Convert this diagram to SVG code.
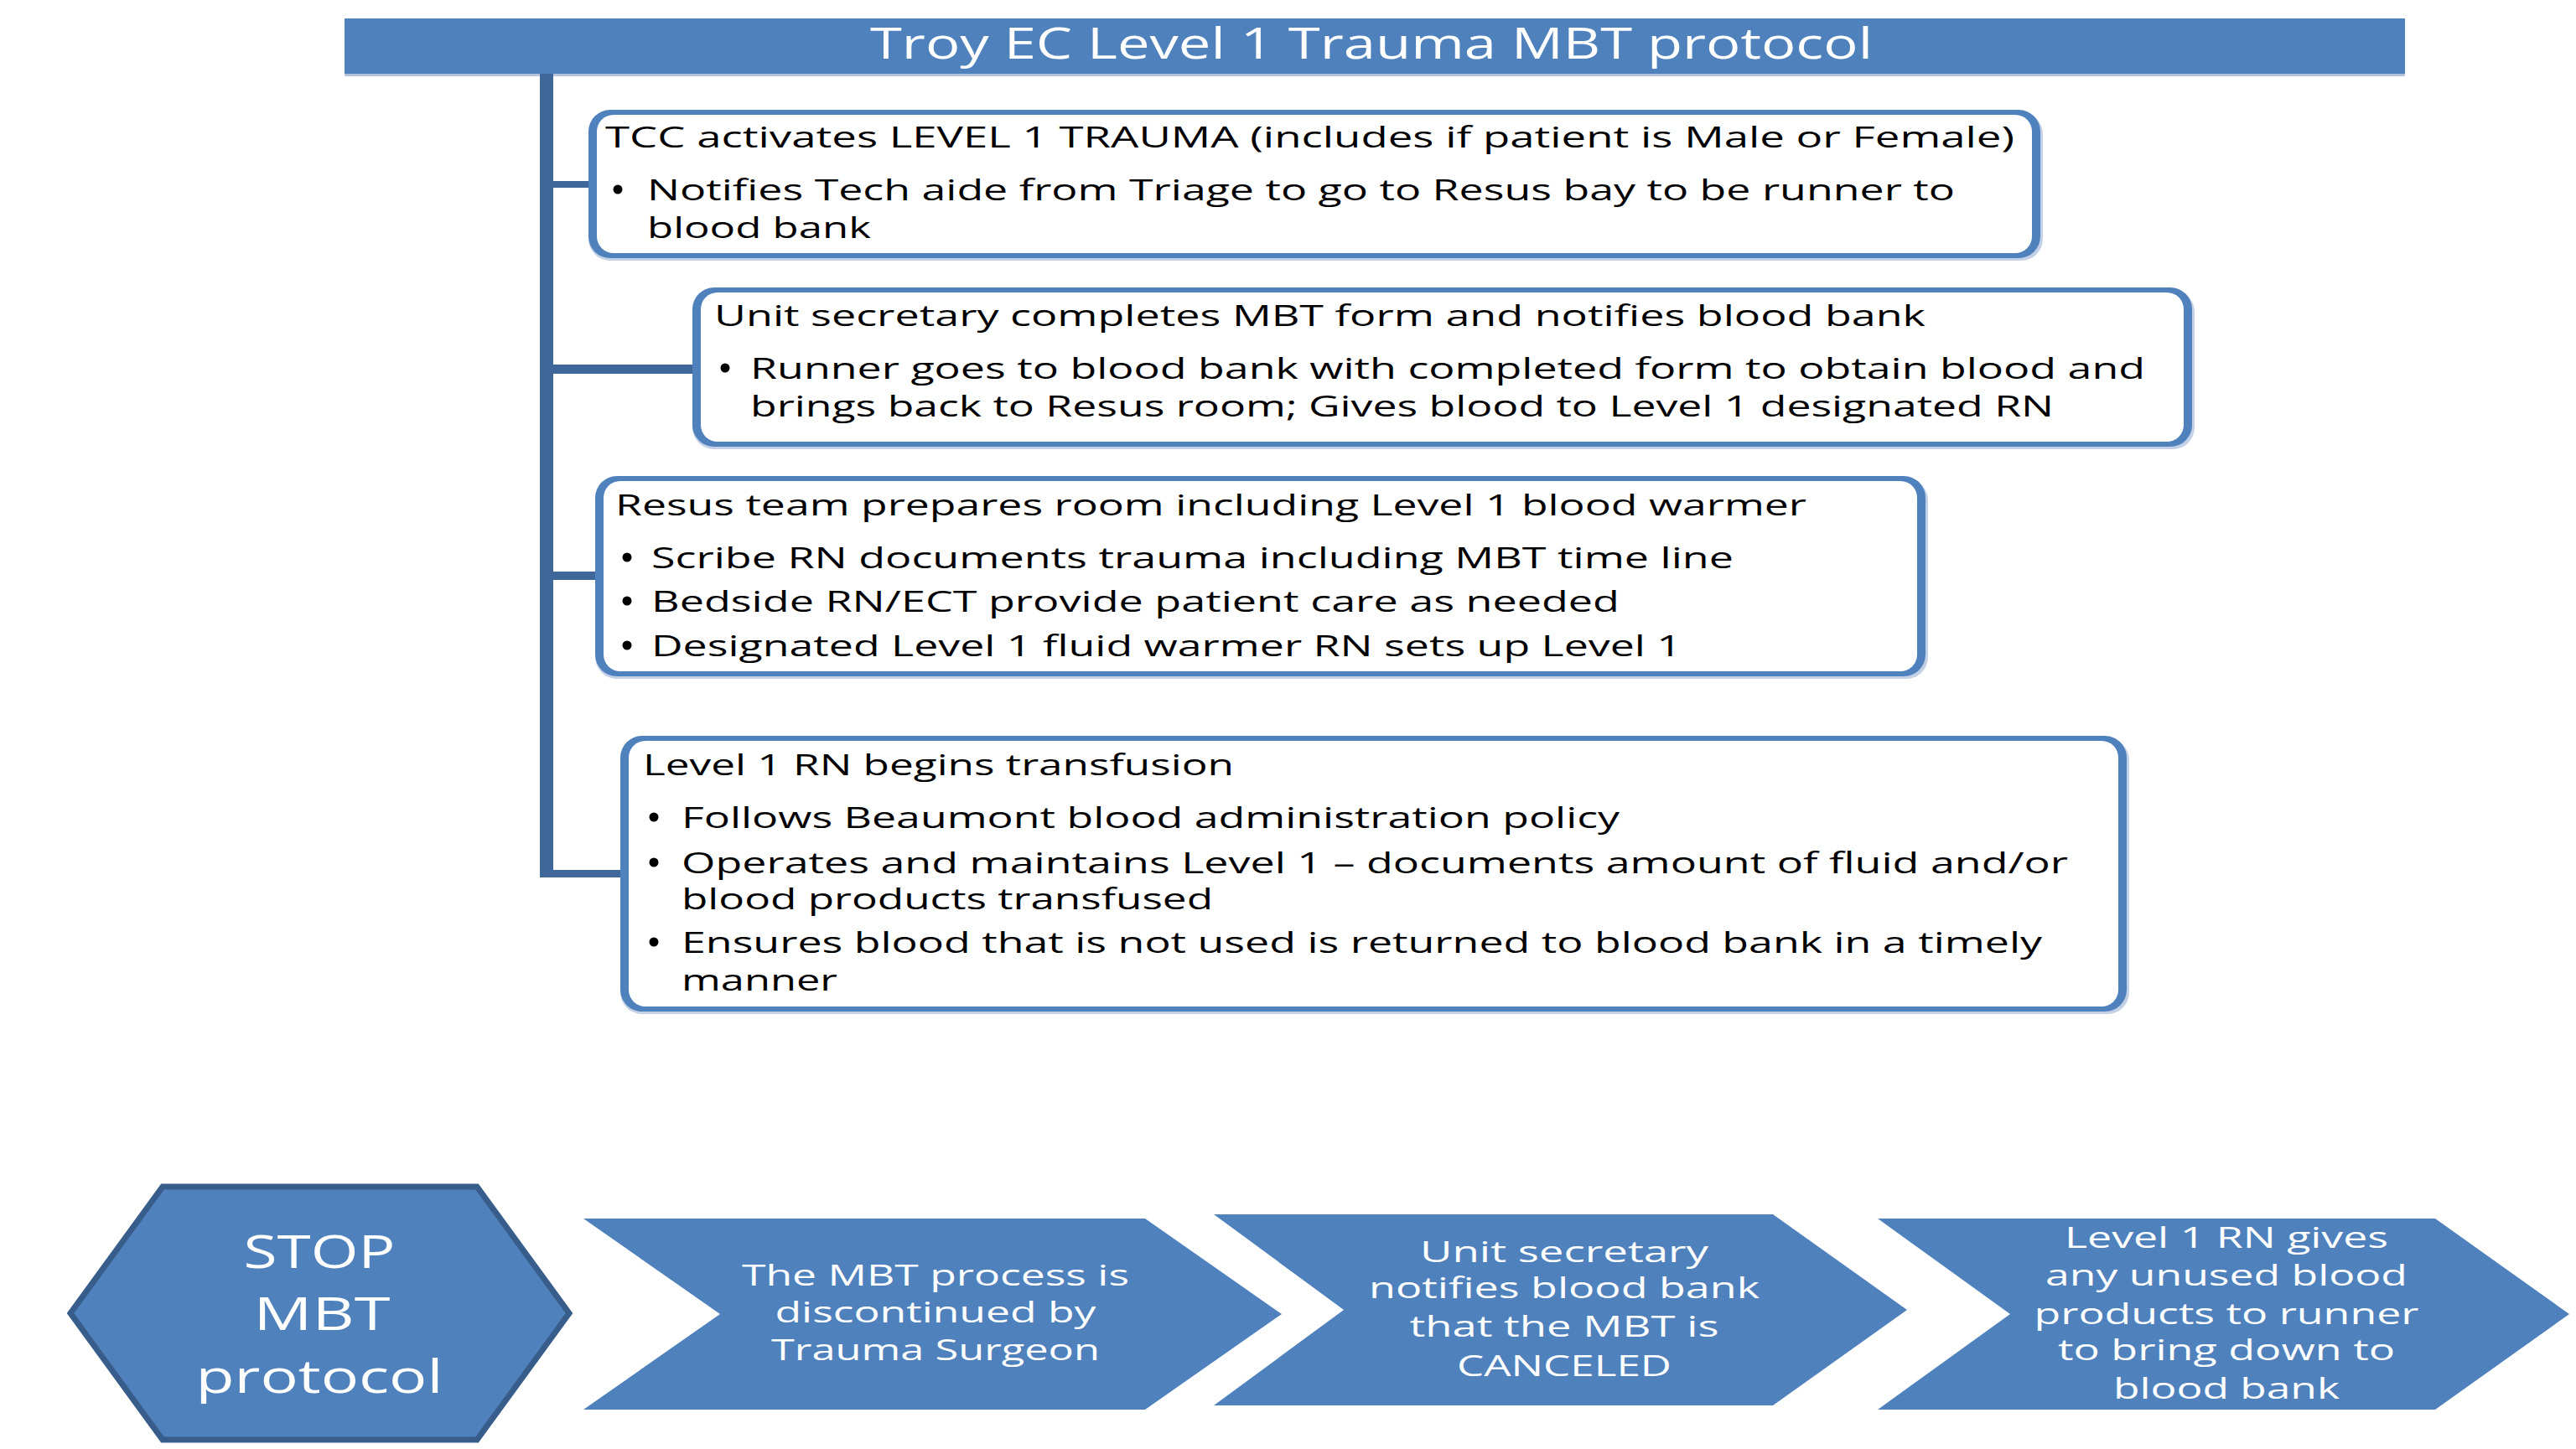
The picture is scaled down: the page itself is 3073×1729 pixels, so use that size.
<svg xmlns="http://www.w3.org/2000/svg" width="3073" height="1729" viewBox="0 0 3073 1729">
  <style>
    text { font-family: "Open Sans", "Liberation Sans", sans-serif; }
    .frame { fill: #4F81BD; }
    .halo { fill: #C3D0E6; }
    .inner { fill: #FFFFFF; }
    .body { font-size: 35px; fill: #000000; }
    .dot { fill: #000000; }
    .light { fill: #FFFFFF; text-anchor: middle; }
    .step { font-size: 35px; }
    .wire { fill: #3F6799; }
    .shape { fill: #4F81BD; }
    .hex { fill: #4F81BD; stroke: #385D8A; stroke-width: 7; stroke-linejoin: miter; }
  </style>
  <defs>
    <circle id="bullet" r="5.5" class="dot"/>
  </defs>

  <rect width="3073" height="1729" fill="#FFFFFF"/>

  <!-- title banner -->
  <g id="title">
    <rect x="411" y="86" width="2458" height="5" fill="#B4C3DC"/>
    <rect x="411" y="22" width="2458" height="66" class="frame"/>
    <text x="1636" y="70" class="light" font-size="52" textLength="1196" lengthAdjust="spacingAndGlyphs">Troy EC Level 1 Trauma MBT protocol</text>
  </g>

  <!-- trunk and branches -->
  <g id="connectors">
    <rect x="644" y="88" width="16" height="959" class="wire"/>
    <rect x="644" y="216" width="62" height="8" class="wire"/>
    <rect x="644" y="435" width="186" height="11" class="wire"/>
    <rect x="644" y="682" width="70" height="10" class="wire"/>
    <rect x="644" y="1038" width="100" height="9" class="wire"/>
  </g>

  <!-- step 1 -->
  <g id="step-activate">
    <rect x="702" y="134" width="1735" height="177" rx="26" class="halo"/>
    <rect x="702" y="131" width="1732" height="177" rx="26" class="frame"/>
    <rect x="712" y="137" width="1712" height="165" rx="20" class="inner"/>
    <text x="722" y="176" class="body" textLength="1681" lengthAdjust="spacingAndGlyphs">TCC activates LEVEL 1 TRAUMA (includes if patient is Male or Female)</text>
    <use href="#bullet" x="737" y="226"/>
    <text x="772" y="239" class="body" textLength="1560" lengthAdjust="spacingAndGlyphs">Notifies Tech aide from Triage to go to Resus bay to be runner to</text>
    <text x="772" y="284" class="body" textLength="267" lengthAdjust="spacingAndGlyphs">blood bank</text>
  </g>

  <!-- step 2 -->
  <g id="step-secretary">
    <rect x="826" y="346" width="1792" height="190" rx="26" class="halo"/>
    <rect x="826" y="343" width="1789" height="190" rx="26" class="frame"/>
    <rect x="836" y="349" width="1769" height="178" rx="20" class="inner"/>
    <text x="852" y="389" class="body" textLength="1445" lengthAdjust="spacingAndGlyphs">Unit secretary completes MBT form and notifies blood bank</text>
    <use href="#bullet" x="865" y="439"/>
    <text x="895" y="452" class="body" textLength="1664" lengthAdjust="spacingAndGlyphs">Runner goes to blood bank with completed form to obtain blood and</text>
    <text x="895" y="497" class="body" textLength="1555" lengthAdjust="spacingAndGlyphs">brings back to Resus room; Gives blood to Level 1 designated RN</text>
  </g>

  <!-- step 3 -->
  <g id="step-resus">
    <rect x="710" y="571" width="1590" height="239" rx="26" class="halo"/>
    <rect x="710" y="568" width="1587" height="239" rx="26" class="frame"/>
    <rect x="720" y="574" width="1567" height="227" rx="20" class="inner"/>
    <text x="734" y="615" class="body" textLength="1421" lengthAdjust="spacingAndGlyphs">Resus team prepares room including Level 1 blood warmer</text>
    <use href="#bullet" x="748" y="665"/>
    <text x="777" y="678" class="body" textLength="1291" lengthAdjust="spacingAndGlyphs">Scribe RN documents trauma including MBT time line</text>
    <use href="#bullet" x="748" y="717"/>
    <text x="777" y="730" class="body" textLength="1155" lengthAdjust="spacingAndGlyphs">Bedside RN/ECT provide patient care as needed</text>
    <use href="#bullet" x="748" y="770"/>
    <text x="777" y="783" class="body" textLength="1229" lengthAdjust="spacingAndGlyphs">Designated Level 1 fluid warmer RN sets up Level 1</text>
  </g>

  <!-- step 4 -->
  <g id="step-transfusion">
    <rect x="740" y="881" width="1800" height="329" rx="26" class="halo"/>
    <rect x="740" y="878" width="1797" height="329" rx="26" class="frame"/>
    <rect x="750" y="884" width="1777" height="317" rx="20" class="inner"/>
    <text x="767" y="925" class="body" textLength="705" lengthAdjust="spacingAndGlyphs">Level 1 RN begins transfusion</text>
    <use href="#bullet" x="780" y="975"/>
    <text x="813" y="988" class="body" textLength="1119" lengthAdjust="spacingAndGlyphs">Follows Beaumont blood administration policy</text>
    <use href="#bullet" x="780" y="1029"/>
    <text x="813" y="1042" class="body" textLength="1654" lengthAdjust="spacingAndGlyphs">Operates and maintains Level 1 – documents amount of fluid and/or</text>
    <text x="813" y="1085" class="body" textLength="634" lengthAdjust="spacingAndGlyphs">blood products transfused</text>
    <use href="#bullet" x="780" y="1124"/>
    <text x="813" y="1137" class="body" textLength="1623" lengthAdjust="spacingAndGlyphs">Ensures blood that is not used is returned to blood bank in a timely</text>
    <text x="813" y="1182" class="body" textLength="186" lengthAdjust="spacingAndGlyphs">manner</text>
  </g>

  <!-- stop sequence -->
  <g id="stop-hexagon">
    <polygon points="194,1416 569,1416 679,1567 569,1718 194,1718 84,1567" class="hex"/>
    <text x="381" y="1513" class="light" font-size="54" textLength="181" lengthAdjust="spacingAndGlyphs">STOP</text>
    <text x="384" y="1587" class="light" font-size="54" textLength="163" lengthAdjust="spacingAndGlyphs">MBT</text>
    <text x="381" y="1662" class="light" font-size="54" textLength="295" lengthAdjust="spacingAndGlyphs">protocol</text>
  </g>

  <g id="stop-discontinued">
    <polygon points="696,1454 1366,1454 1529,1568 1366,1682 696,1682 859,1568" class="shape"/>
    <text x="1116" y="1534" class="light step" textLength="462" lengthAdjust="spacingAndGlyphs">The MBT process is</text>
    <text x="1116" y="1578" class="light step" textLength="383" lengthAdjust="spacingAndGlyphs">discontinued by</text>
    <text x="1116" y="1623" class="light step" textLength="392" lengthAdjust="spacingAndGlyphs">Trauma Surgeon</text>
  </g>

  <g id="stop-notify">
    <polygon points="1448,1449 2115,1449 2275,1563 2115,1677 1448,1677 1603,1563" class="shape"/>
    <text x="1866" y="1506" class="light step" textLength="344" lengthAdjust="spacingAndGlyphs">Unit secretary</text>
    <text x="1866" y="1549" class="light step" textLength="466" lengthAdjust="spacingAndGlyphs">notifies blood bank</text>
    <text x="1866" y="1595" class="light step" textLength="369" lengthAdjust="spacingAndGlyphs">that the MBT is</text>
    <text x="1866" y="1642" class="light step" textLength="256" lengthAdjust="spacingAndGlyphs">CANCELED</text>
  </g>

  <g id="stop-return">
    <polygon points="2240,1454 2905,1454 3065,1568 2905,1682 2240,1682 2398,1568" class="shape"/>
    <text x="2656" y="1489" class="light step" textLength="386" lengthAdjust="spacingAndGlyphs">Level 1 RN gives</text>
    <text x="2656" y="1534" class="light step" textLength="432" lengthAdjust="spacingAndGlyphs">any unused blood</text>
    <text x="2656" y="1580" class="light step" textLength="459" lengthAdjust="spacingAndGlyphs">products to runner</text>
    <text x="2656" y="1623" class="light step" textLength="402" lengthAdjust="spacingAndGlyphs">to bring down to</text>
    <text x="2656" y="1669" class="light step" textLength="270" lengthAdjust="spacingAndGlyphs">blood bank</text>
  </g>
</svg>
